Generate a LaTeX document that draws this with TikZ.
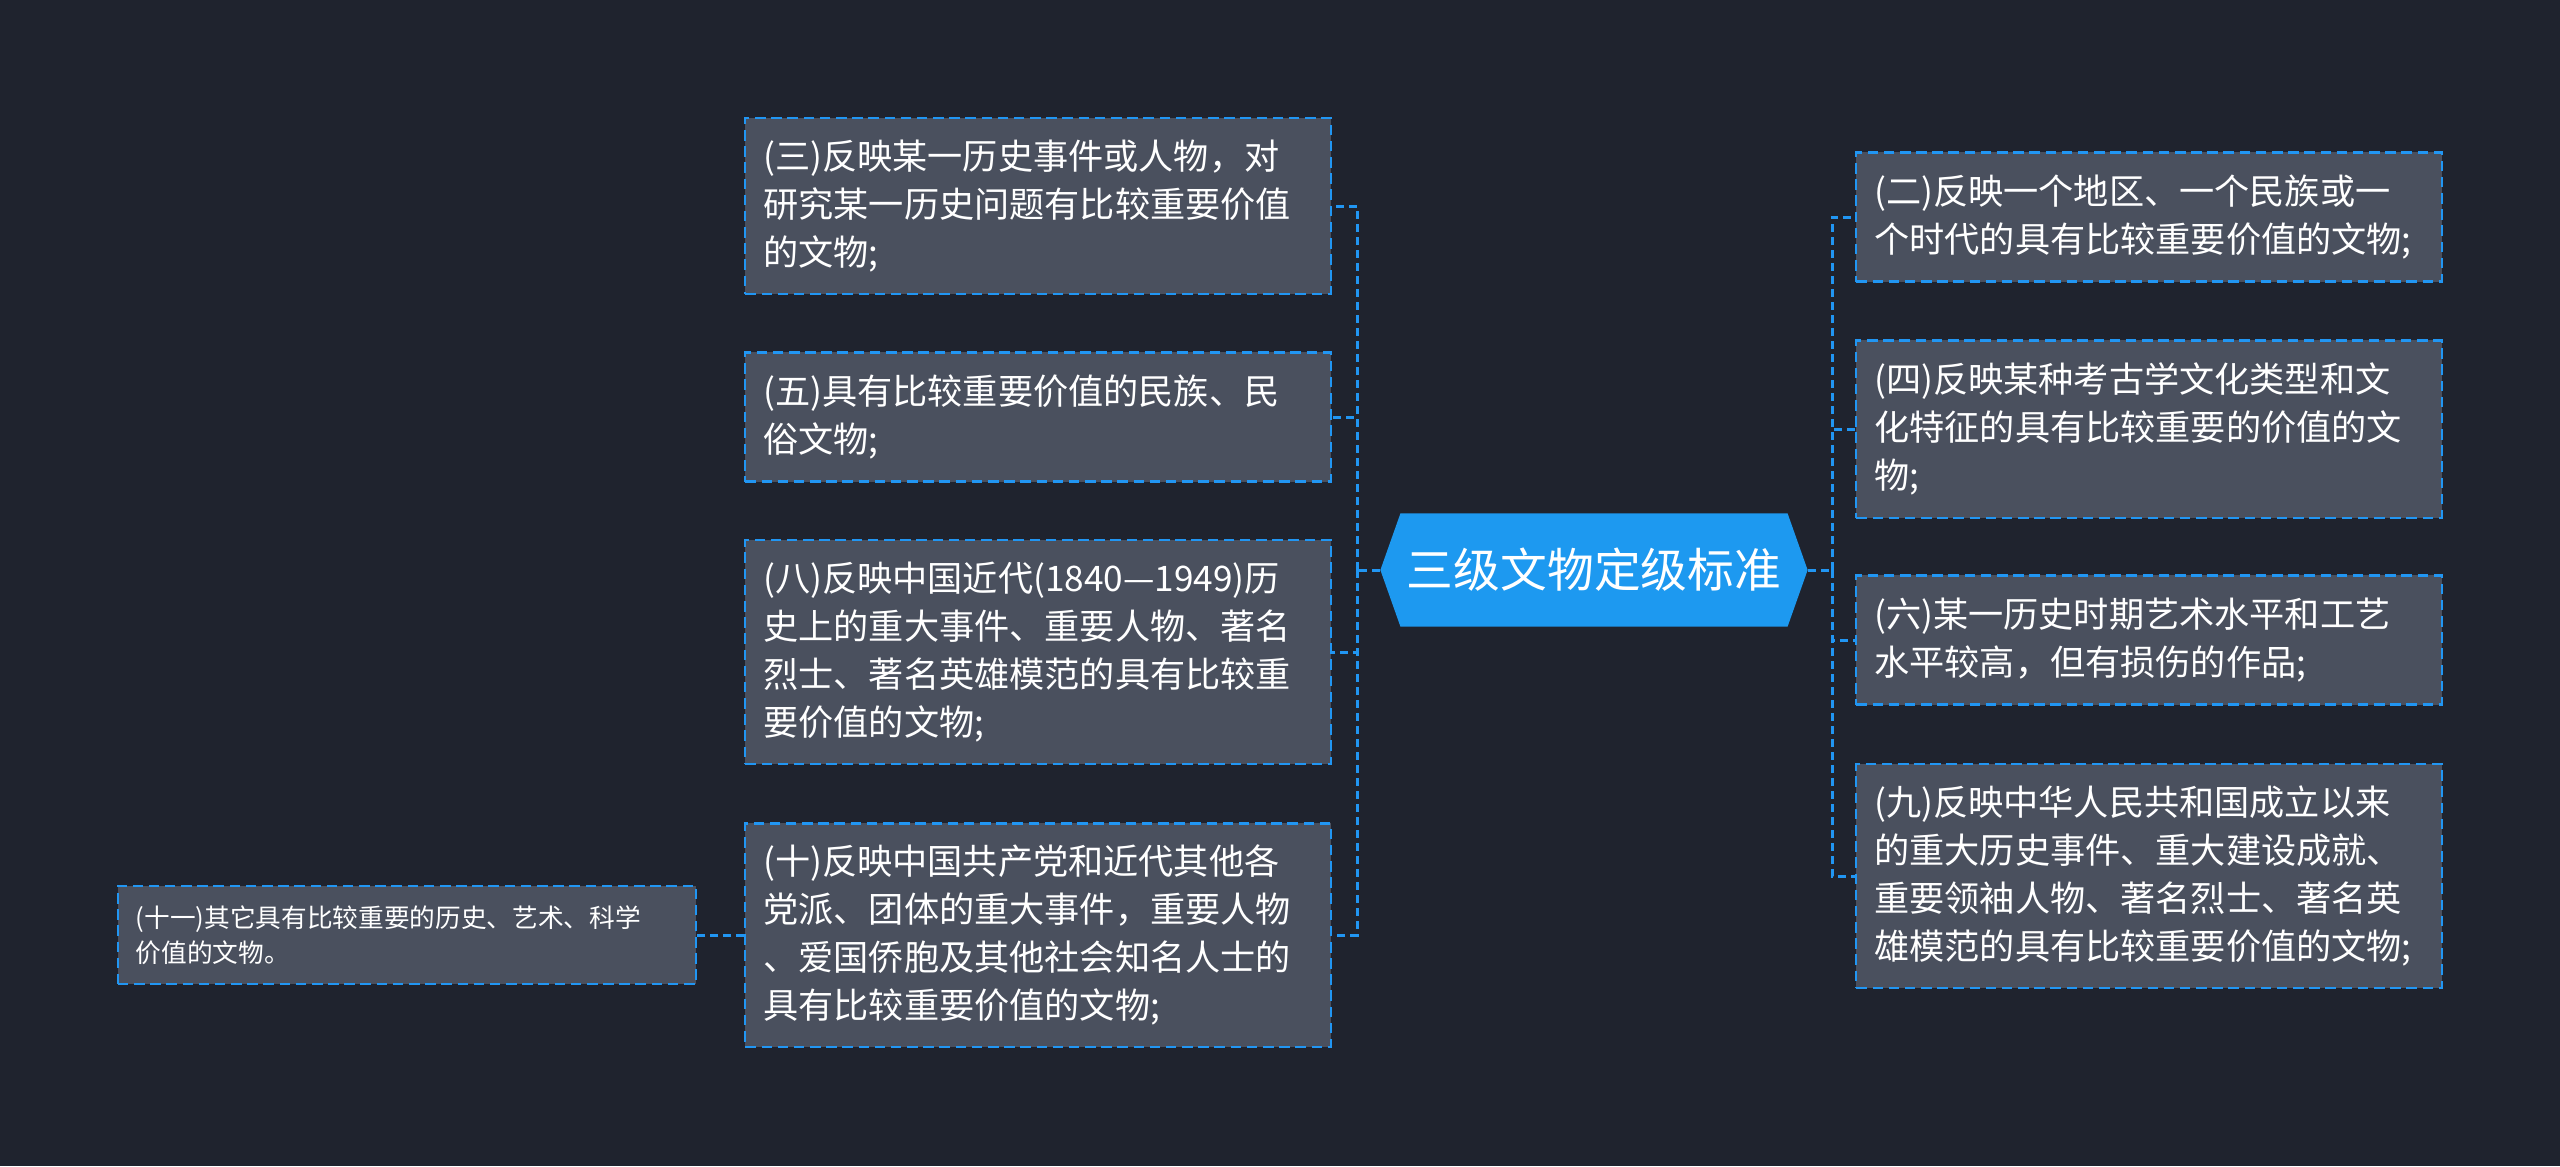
\documentclass[tikz,border=0pt]{standalone}
\usepackage{fontspec}
\setmainfont{Noto Sans CJK SC}
\usetikzlibrary{shapes.symbols}
\definecolor{bgdark}{RGB}{31,35,46}
\definecolor{boxgray}{RGB}{74,80,94}
\definecolor{lineblue}{RGB}{33,150,243}
\definecolor{rootblue}{RGB}{29,153,240}
\tikzset{
  rootnd/.style={signal, signal to=west and east, signal pointer angle=141,
                 fill=rootblue, text=white, inner sep=0pt,
                 minimum width=4.27cm, minimum height=1.13cm,
                 font=\fontsize{13.3pt}{16pt}\selectfont},
  item/.style={draw=lineblue, line width=0.6pt, dash pattern=on 3pt off 1.6pt,
               fill=boxgray, text=white, align=left, inner xsep=0.18cm,
               text width=5.49cm, minimum width=5.85cm,
               font=\fontsize{10pt}{13.7pt}\selectfont},
  small/.style={item, text width=5.42cm, minimum width=5.78cm,
                font=\fontsize{7.3pt}{9.8pt}\selectfont},
  link/.style={lineblue, line width=0.85pt, dash pattern=on 2.3pt off 1.4pt},
}
\begin{document}
\begin{tikzpicture}[x=0.01cm, y=-0.01cm]
  \fill[bgdark] (0,0) rectangle (2560,1166);
  \useasboundingbox (0,0) rectangle (2560,1166);
  % root
  \node[rootnd] (root) at (1594,570) {三级文物定级标准};
  % left side
  \node[item, minimum height=1.76cm] (s3) at (1038,206)
    {(三)反映某一历史事件或人物，对\\研究某一历史问题有比较重要价值\\的文物;};
  \node[item, minimum height=1.29cm] (s5) at (1038,417)
    {(五)具有比较重要价值的民族、民\\俗文物;};
  \node[item, minimum height=2.24cm] (s8) at (1038,652)
    {(八)反映中国近代(1840—1949)历\\史上的重大事件、重要人物、著名\\烈士、著名英雄模范的具有比较重\\要价值的文物;};
  \node[item, minimum height=2.23cm] (s10) at (1038,935)
    {(十)反映中国共产党和近代其他各\\党派、团体的重大事件，重要人物\\、爱国侨胞及其他社会知名人士的\\具有比较重要价值的文物;};
  \node[small, minimum height=0.98cm] (s11) at (407,935)
    {(十一)其它具有比较重要的历史、艺术、科学\\价值的文物。};
  % right side
  \node[item, minimum height=1.29cm] (s2) at (2149,217)
    {(二)反映一个地区、一个民族或一\\个时代的具有比较重要价值的文物;};
  \node[item, minimum height=1.77cm] (s4) at (2149,429)
    {(四)反映某种考古学文化类型和文\\化特征的具有比较重要的价值的文\\物;};
  \node[item, minimum height=1.29cm] (s6) at (2149,640)
    {(六)某一历史时期艺术水平和工艺\\水平较高，但有损伤的作品;};
  \node[item, minimum height=2.24cm] (s9) at (2149,876)
    {(九)反映中华人民共和国成立以来\\的重大历史事件、重大建设成就、\\重要领袖人物、著名烈士、著名英\\雄模范的具有比较重要价值的文物;};
  % connectors
  \coordinate (lt) at (1357,570);
  \coordinate (rt) at (1832,570);
  \draw[link] (root.west) -- (lt);
  \draw[link] (root.east) -- (rt);
  \foreach \b in {s3,s5,s8,s10}
    \draw[link] (lt) |- (\b.east);
  \foreach \b in {s2,s4,s6,s9}
    \draw[link] (rt) |- (\b.west);
  \draw[link] (s10.west) -- (s11.east);
\end{tikzpicture}
\end{document}
